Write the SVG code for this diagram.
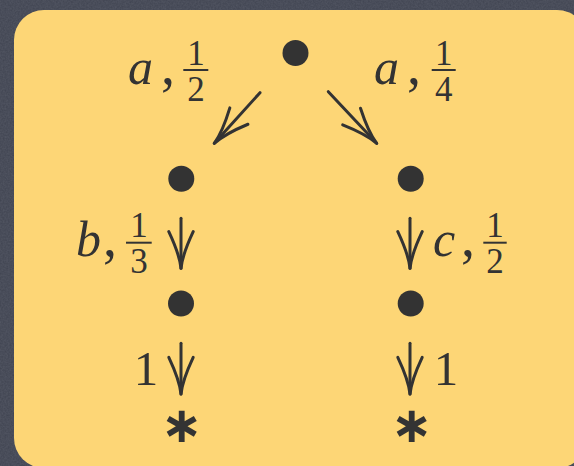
<svg xmlns="http://www.w3.org/2000/svg" width="574" height="466" viewBox="0 0 574 466">
  <style>
    .bg { fill: #3f4350; }
    .card { fill: #fdd676; }
    .dot { fill: #333333; }
    .shaft { stroke: #333333; stroke-width: 3; fill: none; stroke-linecap: round; }
    .lbl { fill: #333333; font-family: "Liberation Serif", "DejaVu Serif", serif; }
    .it { font-style: italic; font-size: 50px; }
    .main { font-size: 49px; }
    .cm { font-size: 56px; }
    .scr { font-size: 35px; }
    .bar { stroke: #333333; stroke-width: 2; }
    .ast { fill: #333333; font-family: "DejaVu Sans", sans-serif; font-weight: bold; font-size: 50px; text-anchor: middle; }
  </style>
  <defs>
    <filter id="grain" x="0" y="0" width="100%" height="100%">
      <feTurbulence type="fractalNoise" baseFrequency="0.6" numOctaves="2" seed="3" result="n"/>
      <feColorMatrix type="matrix" values="0 0 0 0 0.8  0 0 0 0 0.82  0 0 0 0 0.9  0 0 0 0.12 0"/>
    </filter>
    <marker id="tip" markerUnits="userSpaceOnUse" markerWidth="60" markerHeight="60" viewBox="-45 -30 60 60" refX="0" refY="0" orient="auto" overflow="visible">
      <path d="M -36.7 -12.2 Q -14 -1.5 0 0 Q -14 1.5 -36.7 12.2" fill="none" stroke="#333333" stroke-width="3" stroke-linecap="round" stroke-linejoin="round"/>
    </marker>
  </defs>

  <rect class="bg" x="0" y="0" width="574" height="466"/>
  <rect x="0" y="0" width="574" height="466" filter="url(#grain)"/>
  <rect class="card" x="14" y="10" width="573" height="458" rx="30" ry="30"/>

  <g id="connectors">
    <line class="shaft" x1="260" y1="92.7" x2="214.3" y2="143.3" marker-end="url(#tip)"/>
    <line class="shaft" x1="328.3" y1="91.7" x2="376.7" y2="143.3" marker-end="url(#tip)"/>
    <line class="shaft" x1="181" y1="218.3" x2="181" y2="268.3" marker-end="url(#tip)"/>
    <line class="shaft" x1="410" y1="218.3" x2="410" y2="268.3" marker-end="url(#tip)"/>
    <line class="shaft" x1="181" y1="343.3" x2="181" y2="394" marker-end="url(#tip)"/>
    <line class="shaft" x1="410" y1="343.3" x2="410" y2="394" marker-end="url(#tip)"/>
  </g>

  <g id="edge-labels">
    <g id="label-a-half">
      <text class="lbl it" x="128" y="83.5">a</text>
      <text class="lbl cm" x="161" y="83.5">,</text>
      <text class="lbl scr" x="196" y="65" text-anchor="middle">1</text>
      <line class="bar" x1="183.3" y1="70" x2="208.3" y2="70"/>
      <text class="lbl scr" x="196" y="100.5" text-anchor="middle">2</text>
    </g>
    <g id="label-a-quarter">
      <text class="lbl it" x="374" y="83.5">a</text>
      <text class="lbl cm" x="407" y="83.5">,</text>
      <text class="lbl scr" x="443.7" y="65" text-anchor="middle">1</text>
      <line class="bar" x1="431.7" y1="70" x2="455.7" y2="70"/>
      <text class="lbl scr" x="443.7" y="100.5" text-anchor="middle">4</text>
    </g>
    <g id="label-b-third">
      <text class="lbl it" x="76" y="256">b</text>
      <text class="lbl cm" x="103" y="256">,</text>
      <text class="lbl scr" x="139" y="237.3" text-anchor="middle">1</text>
      <line class="bar" x1="126" y1="242.7" x2="151.7" y2="242.7"/>
      <text class="lbl scr" x="139" y="273" text-anchor="middle">3</text>
    </g>
    <g id="label-c-half">
      <text class="lbl it" x="433" y="256">c</text>
      <text class="lbl cm" x="461" y="256">,</text>
      <text class="lbl scr" x="495" y="237.3" text-anchor="middle">1</text>
      <line class="bar" x1="483.3" y1="242.7" x2="506.7" y2="242.7"/>
      <text class="lbl scr" x="495" y="273" text-anchor="middle">2</text>
    </g>
    <text id="label-1-left" class="lbl main" x="146" y="385" text-anchor="middle">1</text>
    <text id="label-1-right" class="lbl main" x="446" y="385" text-anchor="middle">1</text>
  </g>

  <g id="node-root"><circle class="dot" cx="295.5" cy="53" r="13"/></g>
  <g id="node-left"><circle class="dot" cx="181.3" cy="178.7" r="13"/></g>
  <g id="node-right"><circle class="dot" cx="410.7" cy="178.7" r="13"/></g>
  <g id="node-left2"><circle class="dot" cx="181" cy="303.5" r="13"/></g>
  <g id="node-right2"><circle class="dot" cx="410.7" cy="303.5" r="13"/></g>
  <g id="node-left-end"><text class="ast" x="181.7" y="442">∗</text></g>
  <g id="node-right-end"><text class="ast" x="411.7" y="442">∗</text></g>
</svg>
